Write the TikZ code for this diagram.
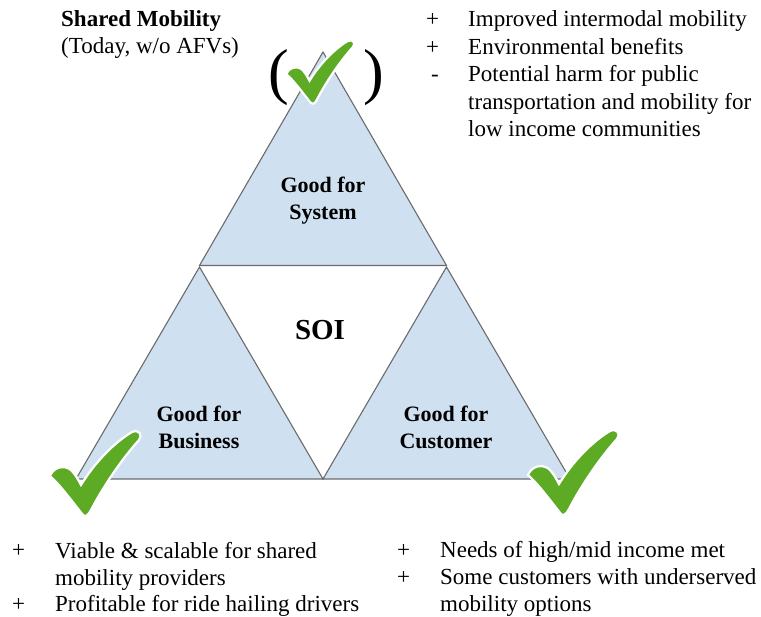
\documentclass[tikz,border=0pt]{standalone}
\usepackage{fontspec}
\setmainfont{Liberation Serif}
\definecolor{triblue}{HTML}{CFE0F1}
\definecolor{edgegray}{HTML}{6B6B6B}
\definecolor{tickgreen}{HTML}{5DAA24}
\tikzset{part style/.style = {%
  draw = edgegray,
  line width = 1.1pt,
  fill = triblue
 },
 label style/.style = {%
  font = \fontsize{22}{27}\selectfont\bfseries,
  align = center
 },
 list style/.style = {%
  font = \fontsize{23}{27.5}\selectfont,
  align = left,
  anchor = base west,
  inner sep = 0pt
 },
 greencheck/.pic = {%
  \filldraw[fill=tickgreen, draw=white, line width=2.2pt]
   (0,3) .. controls (-12,-12) and (-22,-26) .. (-33,-36)
   .. controls (-30,-44) and (-20,-48) .. (-12,-42)
   .. controls (-8,-38) and (-5,-33) .. (-2,-27)
   .. controls (12,-50) and (32,-70) .. (49,-80)
   .. controls (56,-83) and (60,-77) .. (56,-72)
   .. controls (38,-52) and (20,-25) .. (8,-2)
   .. controls (5,4) and (2,5) .. (0,3) -- cycle;
 }
}

\begin{document}
\begin{tikzpicture}[x=1pt, y=-1pt]
      \useasboundingbox (0,0) rectangle (761,617);

      % corners of the big triangle
      \coordinate (top) at (323,52);
      \coordinate (left) at (76,479);
      \coordinate (right) at (570,479);
      \coordinate (midL) at (199.5,265.5);
      \coordinate (midR) at (446.5,265.5);
      \coordinate (midB) at (323,479);

      \filldraw[part style] (top) -- (midL) -- (midR) -- cycle;
      \filldraw[part style] ([yshift=-1.5pt]midL) -- (left) -- (midB) -- cycle;
      \filldraw[part style] ([yshift=-1.5pt]midR) -- (midB) -- (right) -- cycle;

      \node[label style] (system) at (323,201) {Good for\\System};
      \node[label style] (business) at (199,427) {Good for\\Business};
      \node[label style] (customer) at (446,427) {Good for\\Customer};
      \node[font=\fontsize{29}{30}\selectfont\bfseries] (soi) at (320,330) {SOI};

      % ticks
      \node[font=\fontsize{62}{62}\selectfont] (parL) at (279,78) {(};
      \node[font=\fontsize{62}{62}\selectfont] (parR) at (374,78) {)};
      \pic (tickS) [scale=0.75] at (311,101) {greencheck};
      \pic (tickB) at (83,512) {greencheck};
      \pic (tickC) at (561,511) {greencheck};

      % title
      \node[list style, font=\fontsize{23}{27.5}\selectfont\bfseries] (title) at (61,27) {Shared Mobility};
      \node[list style] (subtitle) at (61,54) {(Today, w/o AFVs)};

      % system
      \node[list style] (sysplusA) at (426,27) {+};
      \node[list style] (sysA) at (468,27) {Improved intermodal mobility};
      \node[list style] (sysplusB) at (426,54.5) {+};
      \node[list style] (sysB) at (468,54.5) {Environmental benefits};
      \node[list style] (sysminusC) at (431,82) {-};
      \node[list style] (sysC) at (468,137) {Potential harm for public\\transportation and mobility for\\low income communities};

      % business
      \node[list style] (busplusA) at (12,558) {+};
      \node[list style] (busA) at (55,585.5) {Viable \& scalable for shared\\mobility providers};
      \node[list style] (busplusB) at (12,611) {+};
      \node[list style] (busB) at (55,611) {Profitable for ride hailing drivers};

      % customer
      \node[list style] (cusplusA) at (397,558) {+};
      \node[list style] (cusA) at (440,558) {Needs of high/mid income met};
      \node[list style] (cusplusB) at (397,584.5) {+};
      \node[list style] (cusB) at (440,612) {Some customers with underserved\\mobility options};
     \end{tikzpicture}
\end{document}
